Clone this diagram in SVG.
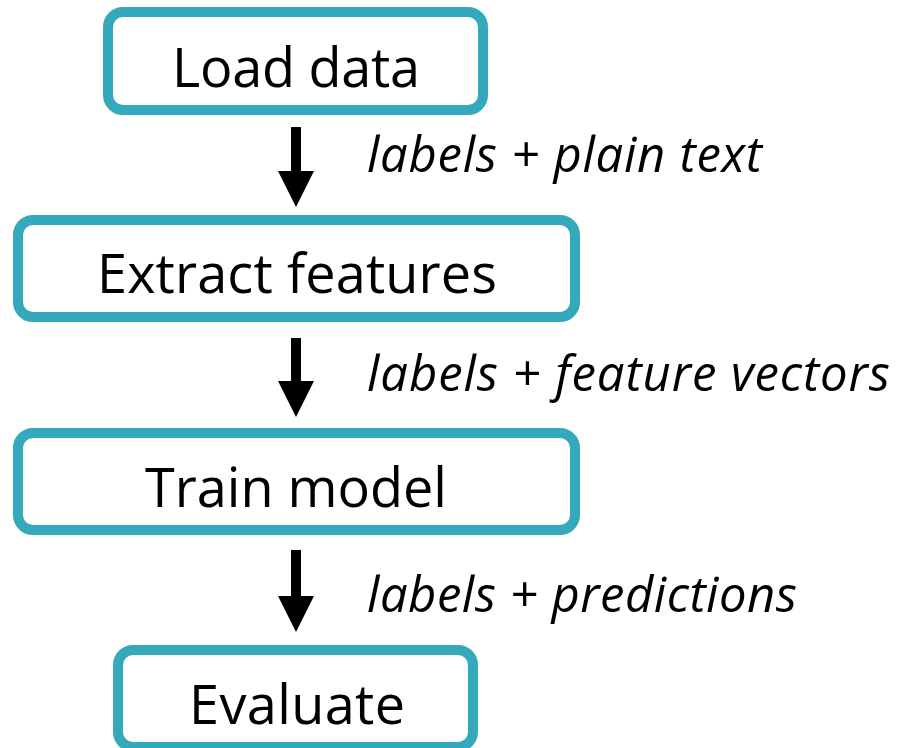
<svg xmlns="http://www.w3.org/2000/svg" width="901" height="748" viewBox="0 0 901 748">
  <style>
    .box { fill: #ffffff; stroke: #35A9BC; stroke-width: 10; }
    .node-text { font-family: "Open Sans", "Noto Sans", "DejaVu Sans", sans-serif; font-size: 54px; fill: #000000; text-anchor: middle; }
    .edge-label { font-family: "Open Sans", "Noto Sans", "DejaVu Sans", sans-serif; font-style: italic; font-size: 49px; fill: #000000; }
    .arrow { stroke: #000000; stroke-width: 10; fill: none; marker-end: url(#head); }
  </style>
  <defs>
    <marker id="head" viewBox="0 0 36 36" markerUnits="userSpaceOnUse" markerWidth="36" markerHeight="36" refX="6" refY="18" orient="auto">
      <path d="M0,0 L36,18 L0,36 z" fill="#000000"/>
    </marker>
  </defs>
  <rect width="901" height="748" fill="#ffffff"/>

  <g id="node-load-data">
    <rect class="box" x="108" y="12" width="375" height="98" rx="15" ry="15"/>
    <text class="node-text" x="296" y="87" textLength="248" lengthAdjust="spacing">Load data</text>
  </g>

  <g id="node-extract-features">
    <rect class="box" x="18" y="220" width="557" height="97" rx="15" ry="15"/>
    <text class="node-text" x="297" y="293" textLength="400" lengthAdjust="spacing">Extract features</text>
  </g>

  <g id="node-train-model">
    <rect class="box" x="18" y="433" width="557" height="97" rx="15" ry="15"/>
    <text class="node-text" x="296" y="507" textLength="302" lengthAdjust="spacing">Train model</text>
  </g>

  <g id="node-evaluate">
    <rect class="box" x="118" y="650" width="355" height="97" rx="15" ry="15"/>
    <text class="node-text" x="297" y="724" textLength="216" lengthAdjust="spacing">Evaluate</text>
  </g>

  <g id="connectors">
    <line class="arrow" x1="296" y1="127" x2="296" y2="177"/>
    <line class="arrow" x1="296" y1="338" x2="296" y2="387"/>
    <line class="arrow" x1="296" y1="550" x2="296" y2="602"/>
    <text class="edge-label" x="367" y="172" textLength="395" lengthAdjust="spacing">labels + plain text</text>
    <text class="edge-label" x="367" y="391" textLength="523" lengthAdjust="spacing">labels + feature vectors</text>
    <text class="edge-label" x="367" y="612" textLength="430" lengthAdjust="spacing">labels + predictions</text>
  </g>
</svg>
